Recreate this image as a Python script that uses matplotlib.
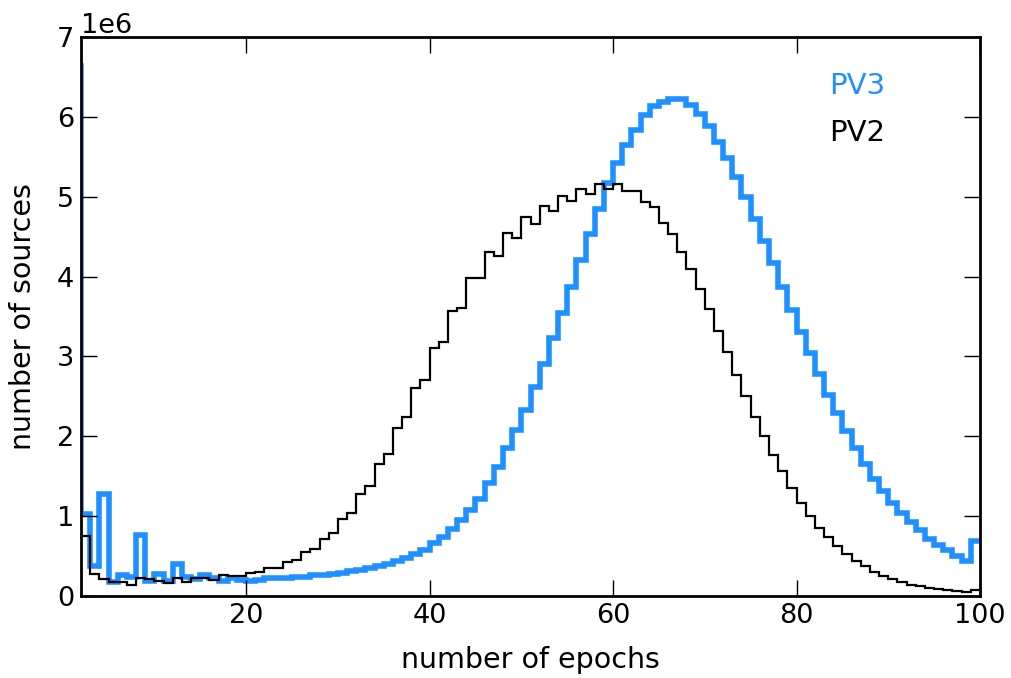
import numpy as np
import matplotlib
matplotlib.use("Agg")
import matplotlib.pyplot as plt

# number-of-epochs bins (integer edges)
pv3_start = 1   # first bin [1,2]
pv2_start = 2   # first bin [2,3]

# counts, in millions of sources
pv3_counts = [6.64, 1.03, 0.37, 1.28, 0.18, 0.26, 0.24, 0.76, 0.19, 0.28,
              0.19, 0.40, 0.24, 0.21, 0.26, 0.22, 0.19, 0.22, 0.20, 0.19,
              0.20, 0.23, 0.22, 0.23, 0.24, 0.24, 0.26, 0.26, 0.27, 0.29,
              0.31, 0.33, 0.35, 0.37, 0.40, 0.44, 0.47, 0.53, 0.58, 0.66,
              0.74, 0.84, 0.95, 1.08, 1.22, 1.41, 1.62, 1.85, 2.08, 2.33,
              2.62, 2.91, 3.23, 3.55, 3.87, 4.21, 4.53, 4.85, 5.17, 5.42,
              5.65, 5.84, 6.02, 6.13, 6.19, 6.22, 6.22, 6.15, 6.04, 5.88,
              5.69, 5.48, 5.25, 5.00, 4.72, 4.45, 4.17, 3.87, 3.58, 3.31,
              3.04, 2.78, 2.52, 2.29, 2.06, 1.85, 1.65, 1.47, 1.32, 1.17,
              1.04, 0.93, 0.83, 0.72, 0.64, 0.57, 0.50, 0.44, 0.69]

pv2_counts = [0.75, 0.28, 0.21, 0.17, 0.18, 0.14, 0.22, 0.21, 0.19, 0.16,
              0.22, 0.18, 0.22, 0.23, 0.20, 0.26, 0.25, 0.25, 0.29, 0.30,
              0.35, 0.35, 0.43, 0.45, 0.555, 0.59, 0.72, 0.785, 0.96, 1.04,
              1.28, 1.38, 1.65, 1.78, 2.11, 2.24, 2.60, 2.71, 3.10, 3.18,
              3.57, 3.61, 3.98, 3.98, 4.31, 4.26, 4.55, 4.48, 4.74, 4.66,
              4.88, 4.82, 5.01, 4.95, 5.10, 5.04, 5.16, 5.10, 5.16, 5.07,
              5.07, 4.94, 4.87, 4.67, 4.53, 4.31, 4.10, 3.84, 3.59, 3.32,
              3.05, 2.77, 2.50, 2.24, 2.00, 1.77, 1.56, 1.35, 1.17, 1.00,
              0.855, 0.735, 0.626, 0.52, 0.44, 0.37, 0.305, 0.255, 0.21, 0.17,
              0.14, 0.12, 0.095, 0.083, 0.07, 0.06, 0.05, 0.07]

x_ticks = [20, 40, 60, 80, 100]
y_ticks = [0, 1e6, 2e6, 3e6, 4e6, 5e6, 6e6, 7e6]

pv3_edges = np.arange(pv3_start, pv3_start + len(pv3_counts) + 1)
pv2_edges = np.arange(pv2_start, pv2_start + len(pv2_counts) + 1)
pv3_vals = np.array(pv3_counts) * 1e6
pv2_vals = np.array(pv2_counts) * 1e6

BLUE = "#1E90FF"

fig = plt.figure(figsize=(10.11, 6.78), dpi=100)
ax = fig.add_axes([81 / 1011, 82 / 678, 899 / 1011, 559 / 678])

ax.stairs(pv3_vals, pv3_edges, baseline=None, color=BLUE, lw=4.0, label="PV3")
ax.stairs(pv2_vals, pv2_edges, baseline=None, color="black", lw=1.6, label="PV2")

ax.set_xlim(2, 100)
ax.set_ylim(0, 7e6)
ax.set_xticks(x_ticks)
ax.set_yticks(y_ticks)

for s in ax.spines.values():
    s.set_linewidth(2.0)

ax.tick_params(which="major", direction="in", length=11.5, width=1.0,
               top=True, right=True, labelsize=19.5, pad=5)
ax.yaxis.get_offset_text().set_fontsize(19.5)

ax.set_xlabel("number of epochs", fontsize=20.5, labelpad=12)
ax.set_ylabel("number of sources", fontsize=20.5, labelpad=14)

leg = ax.legend(loc="upper left", bbox_to_anchor=(0.832, 0.938),
                frameon=False, handlelength=0, handletextpad=0,
                borderpad=0, borderaxespad=0, labelspacing=0.65, fontsize=21)
for h in leg.legend_handles:
    h.set_visible(False)
for txt, c in zip(leg.get_texts(), [BLUE, "black"]):
    txt.set_color(c)

fig.savefig("out.png", dpi=100)
